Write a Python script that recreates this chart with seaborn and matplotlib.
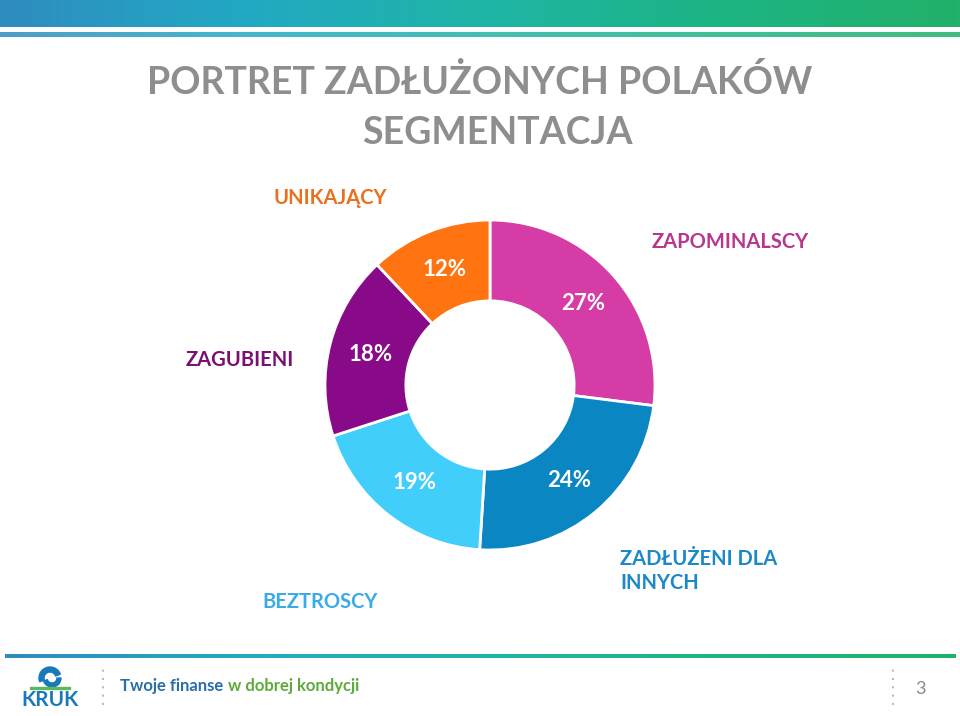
import numpy as np
import matplotlib
matplotlib.use("Agg")
import matplotlib.pyplot as plt
from matplotlib.colors import LinearSegmentedColormap
from matplotlib.patches import Wedge, Rectangle
import seaborn as sns

# ---- data ----
segments = ["ZAPOMINALSCY", "ZADŁUŻENI DLA\nINNYCH", "BEZTROSCY", "ZAGUBIENI", "UNIKAJĄCY"]
shares = [27, 24, 19, 18, 12]
pct_labels = ["27%", "24%", "19%", "18%", "12%"]
seg_colors = ["#D63CA6", "#0A87C2", "#42CEFB", "#890A89", "#FF7410"]
name_colors = ["#B5388E", "#1A88C9", "#39ABE6", "#7A1070", "#E8701E"]
title_lines = ["PORTRET ZADŁUŻONYCH POLAKÓW", "SEGMENTACJA"]
footer_text = ["Twoje finanse", "w dobrej kondycji"]
page_number = "3"

sns.set_theme(style="white")
plt.rcParams['font.family'] = ['Lato', 'DejaVu Sans']

W, H = 960, 716
fig = plt.figure(figsize=(W / 100, H / 100), dpi=100)
fig.patch.set_facecolor("white")

def fx(x):
    return x / W

def fy(y):
    return 1 - y / H

# header bars
grad = LinearSegmentedColormap.from_list("hdr", ["#2F8CBF", "#22A9C4", "#1FB4A6", "#1DB584", "#22B06A"])
g = np.linspace(0, 1, 256).reshape(1, -1)
ax_h = fig.add_axes([0, fy(27), 1, 27 / H])
ax_h.imshow(g, aspect="auto", cmap=grad)
ax_h.axis("off")
ax_h2 = fig.add_axes([0, fy(37), 1, 5 / H])
ax_h2.imshow(g, aspect="auto", cmap=grad, alpha=0.85)
ax_h2.axis("off")
ax_f = fig.add_axes([0.005, fy(658), 0.99, 4 / H])
ax_f.imshow(g, aspect="auto", cmap=grad)
ax_f.axis("off")

# title
fig.text(fx(480), fy(82), title_lines[0], ha="center", va="center",
         fontsize=27, fontweight="bold", color="#8E8E8E")
fig.text(fx(497), fy(133), title_lines[1], ha="center", va="center",
         fontsize=27, fontweight="bold", color="#8E8E8E")

# donut
cx, cy, r = 490, 385, 165
ax = fig.add_axes([fx(cx - r), fy(cy + r), 2 * r / W, 2 * r / H])
it = iter(pct_labels)
wedges, texts, autotexts = ax.pie(
    shares, colors=seg_colors, startangle=90, counterclock=False, radius=1,
    autopct=lambda p: next(it), pctdistance=0.75,
    wedgeprops=dict(width=0.49, edgecolor="white", linewidth=2),
    textprops=dict(color="white", fontsize=16, fontweight="bold"))
ax.set_xlim(-1, 1)
ax.set_ylim(-1, 1)
ax.set_aspect("equal")
ax.axis("off")

# segment names
name_pos = [(730, 242, "center"), (620, 571, "left"), (320, 602, "center"),
            (240, 360, "center"), (330, 198, "center")]
for name, col, (x, y, ha) in zip(segments, name_colors, name_pos):
    fig.text(fx(x), fy(y), name, ha=ha, va="center", fontsize=14.5,
             fontweight="bold", color=col, linespacing=1.25)

# footer logo (decorative shapes)
ax_logo = fig.add_axes([fx(25), fy(708), 50 / W, 45 / H])
ax_logo.set_xlim(0, 50)
ax_logo.set_ylim(0, 45)
ax_logo.axis("off")
ax_logo.add_patch(Wedge((25, 30), 11, 20, 200, width=5, color="#1A79B8"))
ax_logo.add_patch(Wedge((27, 30), 9, 200, 360, width=4, color="#1A79B8"))
ax_logo.add_patch(Rectangle((5, 19.5), 40, 1.5, color="#5CB85C"))
ax_logo.text(25, 8, "KRUK", ha="center", va="center", fontsize=15,
             fontweight="bold", color="#1A79B8")
for xs in (103, 893):
    fig.add_artist(plt.Line2D([fx(xs), fx(xs)], [fy(705), fy(668)], color="#BBBBBB",
                              linestyle=(0, (1, 3)), linewidth=1.5))
t1 = fig.text(fx(120), fy(686), footer_text[0], ha="left", va="center", fontsize=12,
              fontweight="bold", color="#2A6FA8")
fig.canvas.draw()
bb = t1.get_window_extent()
fig.text(bb.x1 / W + 0.005, fy(686), footer_text[1], ha="left", va="center", fontsize=12,
         fontweight="bold", color="#5DAA3A")
fig.text(fx(920), fy(689), page_number, ha="center", va="center", fontsize=13, color="#888888")

fig.savefig("out.png", dpi=100, facecolor="white")
